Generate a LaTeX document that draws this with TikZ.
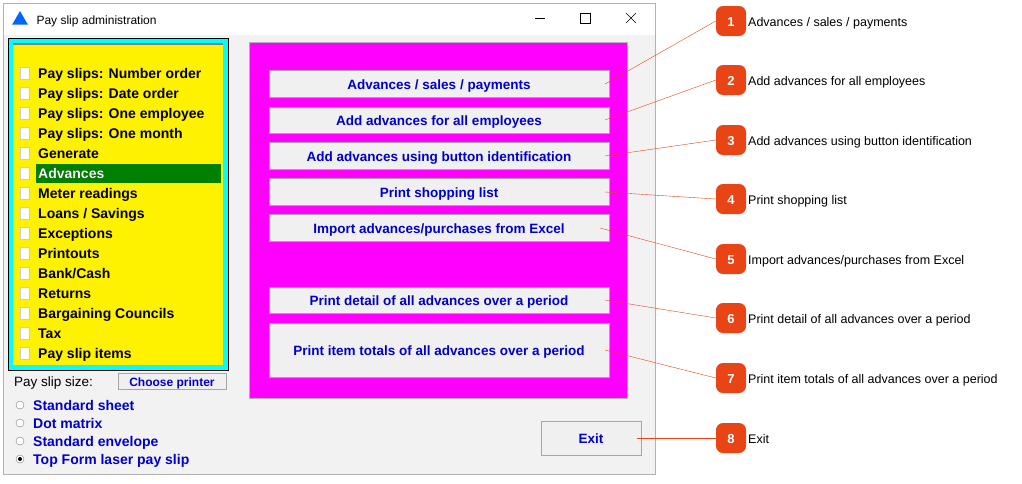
\documentclass[tikz,border=0pt]{standalone}
\usetikzlibrary{shapes.geometric}
\usepackage{fontspec}
\setmainfont{Liberation Sans}
\definecolor{mag}{RGB}{255,0,255}
\definecolor{cy}{RGB}{0,255,255}
\definecolor{bdg}{RGB}{232,68,22}
\definecolor{bt}{RGB}{0,0,205}
\begin{document}
\begin{tikzpicture}[x=1pt,y=-1pt,
 ctr/.style={text height=0.72em+3pt,text depth=0pt},
 item/.style={ctr,anchor=west,font=\fontsize{14}{14}\selectfont\bfseries,inner sep=0pt},
 btn/.style={ctr,draw=gray!70,fill=gray!12,text=bt,font=\fontsize{13.5}{14}\selectfont\bfseries,minimum width=340pt,inner sep=0pt},
 badge/.style={ctr,fill=bdg,rounded corners=7pt,minimum size=30pt,text=white,font=\fontsize{13}{13}\selectfont\bfseries,inner sep=0pt},
 lbl/.style={ctr,anchor=west,font=\fontsize{12.5}{13}\selectfont,inner sep=0pt},
 lead/.style={draw=bdg,thin},
 radio/.style={ctr,anchor=west,text=bt,font=\fontsize{14}{14}\selectfont\bfseries,inner sep=0pt},
 doc/.style={draw=gray!40,fill=white,minimum width=9pt,minimum height=12pt,inner sep=0pt}]
\useasboundingbox (0,0) rectangle (1022,483);
\fill[white] (0,0) rectangle (1022,483);
% window
\draw[gray!60,fill=gray!10] (3,3) rectangle (655,474);
\fill[white] (3.5,3.5) rectangle (654.5,35);
\node[fill=blue!60!cyan,regular polygon,regular polygon sides=3,inner sep=0pt,minimum size=18pt] (logo) at (20,20) {};
\node[ctr,anchor=west,font=\fontsize{12}{12}\selectfont] (title) at (33,19) {Pay slip administration};
\node (mn) at (540,18) {\rule{10pt}{0.6pt}};
\draw (580,13) rectangle (590,23);
\draw (626,13) -- (636,23) (626,23) -- (636,13);
% left panel
\draw[black,fill=cy] (8,38) rectangle (228,370);
\fill[yellow] (13,43) rectangle (223,365);
\draw[gray,line width=1.5pt] (13,44) -- (223,44);
\fill[green!50!black] (36,164) rectangle (221,183);
\foreach \t [count=\i] in {Pay slips: Number order,Pay slips: Date order,Pay slips: One employee,Pay slips: One month,Generate,Advances,Meter readings,{Loans / Savings},Exceptions,Printouts,Bank/Cash,Returns,Bargaining Councils,Tax,Pay slip items}{
 \node[doc] (d\i) at (25,53+20*\i) {};
 \node[item] (m\i) at (38,53+20*\i) {\t};
}
\node[item,text=white] at (m6.west) {Advances};
\node[ctr,anchor=west,inner sep=0pt,font=\fontsize{13.5}{13}\selectfont] (ps) at (14,381) {Pay slip size:};
\node[ctr,draw=gray!70,fill=gray!12,text=bt,font=\fontsize{12}{12}\selectfont\bfseries,minimum width=108pt,minimum height=16pt,inner sep=0pt] (cp) at (172,381) {Choose printer};
\foreach \t [count=\i] in {Standard sheet,Dot matrix,Standard envelope,Top Form laser pay slip}{
 \node[circle,draw=gray,fill=white,minimum size=8pt,inner sep=0pt] (r\i) at (20,387+18*\i) {};
 \node[radio] (rt\i) at (33,387+18*\i) {\t};
}
\fill (r4) circle (2pt);
% magenta panel
\draw[gray!60,fill=mag] (249,42) rectangle (627,398);
\node[btn,minimum height=27pt] (b1) at (439,84) {Advances / sales / payments};
\node[btn,minimum height=26pt] (b2) at (439,120) {Add advances for all employees};
\node[btn,minimum height=27pt] (b3) at (439,156) {Add advances using button identification};
\node[btn,minimum height=27pt] (b4) at (439,192) {Print shopping list};
\node[btn,minimum height=27pt] (b5) at (439,228) {Import advances/purchases from Excel};
\node[btn,minimum height=26pt] (b6) at (439,300) {Print detail of all advances over a period};
\node[btn,minimum height=54pt] (b7) at (439,350) {Print item totals of all advances over a period};
\node[btn,minimum width=100pt,minimum height=34pt] (b8) at (591,438) {Exit};
% badges
\foreach \y/\t [count=\i] in {21/{Advances / sales / payments},80/Add advances for all employees,140/Add advances using button identification,199/Print shopping list,259/{Import advances/purchases from Excel},318/Print detail of all advances over a period,378/Print item totals of all advances over a period,438/Exit}{
 \node[badge] (n\i) at (731,\y) {\i};
 \node[lbl] (l\i) at (748,\y) {\t};
}
\foreach \i/\x in {1/605,2/605,3/605,4/605,5/600,6/605,7/605,8/637}{
 \coordinate (c\i) at (\x,0);
 \draw[lead] (c\i |- b\i) -- (n\i.west);
}
\end{tikzpicture}
\end{document}
